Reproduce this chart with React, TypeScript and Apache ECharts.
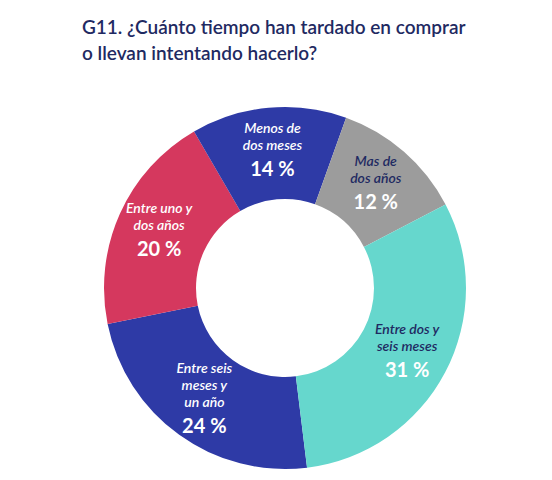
import { useEffect, useRef } from "react";
import * as echarts from "echarts";

const title = "G11. ¿Cuánto tiempo han tardado en comprar\no llevan intentando hacerlo?";

// clockwise from the bottom of the ring
const categories = [
  "Entre seis\nmeses y\nun año",
  "Entre uno y\ndos años",
  "Menos de\ndos meses",
  "Mas de\ndos años",
  "Entre dos y\nseis meses"
];
const percents = [24, 20, 14, 12, 31];

const palette = ["#2e3aa6", "#d5385e", "#2e3aa6", "#9c9c9c", "#66d7cd"];
const darkName = [false, false, false, true, true];

const NAVY = "#1f2a62";

export default function App() {
  const ref = useRef<HTMLDivElement | null>(null);

  useEffect(() => {
    if (!ref.current) {
      return;
    }
    const chart = echarts.init(ref.current, undefined, { renderer: "svg" });

    const nameStyle = {
      fontFamily: "Lato",
      fontStyle: "italic" as const,
      fontWeight: 600,
      fontSize: 14,
      lineHeight: 17,
      align: "center" as const
    };

    const option: echarts.EChartsOption = {
      animation: false,
      backgroundColor: "#ffffff",
      title: {
        text: title,
        left: 77,
        top: 8,
        textStyle: {
          fontFamily: "Lato",
          fontSize: 19,
          fontWeight: 600,
          color: NAVY,
          lineHeight: 26
        }
      },
      series: [
        {
          type: "pie",
          center: [285, 288],
          radius: [89, 181],
          startAngle: -83,
          clockwise: true,
          avoidLabelOverlap: false,
          label: {
            show: true,
            position: "inside",
            formatter: (p: any) => {
              const key = darkName[p.dataIndex] ? "d" : "n";
              const lines = String(p.name)
                .split("\n")
                .map((l: string) => `{${key}|${l}}`)
                .join("\n");
              return `${lines}\n{v|${p.value} %}`;
            },
            rich: {
              n: { ...nameStyle, color: "#ffffff" },
              d: { ...nameStyle, color: NAVY },
              v: {
                fontFamily: "Lato",
                fontWeight: "bold",
                fontSize: 20,
                lineHeight: 30,
                color: "#ffffff",
                align: "center"
              }
            }
          },
          labelLine: { show: false },
          emphasis: { disabled: true },
          data: categories.map((name, i) => ({
            name,
            value: percents[i],
            itemStyle: { color: palette[i] }
          }))
        }
      ]
    };

    chart.setOption(option);
    return () => {
      chart.dispose();
    };
  }, []);

  return (
    <div
      ref={ref}
      style={{ position: "fixed", left: 0, top: 0, width: 552, height: 480 }}
    />
  );
}
